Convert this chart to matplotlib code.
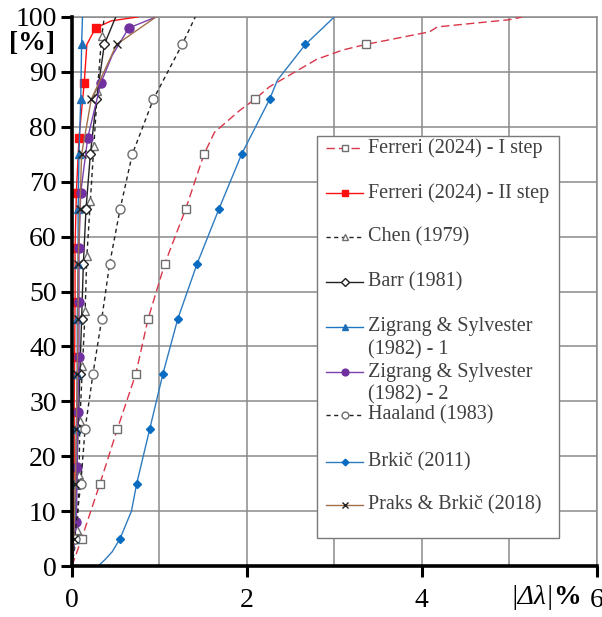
import numpy as np
import matplotlib
matplotlib.use("Agg")
import matplotlib.pyplot as plt
from matplotlib.lines import Line2D
from matplotlib.patches import Rectangle

plt.rcParams["font.family"] = ["Liberation Serif", "DejaVu Serif"]

# Cumulative share of cases [%] against absolute relative error |Δλ| [%]
LEVELS_A = [5, 15, 25, 35, 45, 55, 65, 75, 85, 95]
LEVELS_B = [8, 18, 28, 38, 48, 58, 68, 78, 88, 98]
LEVELS_C = [6.5, 16.5, 26.5, 36.5, 46.5, 56.5, 66.5, 76.5, 86.5, 96.5]

ferreri1_pct = [0, 5, 15, 25, 35, 45, 55, 65, 75, 79, 83, 85, 87.3, 92.3, 94, 95, 97.3, 98.2, 99.5, 100]
ferreri1_err = [0.0, 0.11, 0.32, 0.52, 0.73, 0.87, 1.06, 1.30, 1.51, 1.63, 1.92, 2.09, 2.26, 2.80, 3.10, 3.36, 4.09, 4.18, 5.00, 5.15]

ferreri2_pct = [0, 8, 18, 28, 38, 48, 58, 68, 78, 88, 95, 98, 99.3, 100]
ferreri2_err = [0.0, 0.02, 0.025, 0.025, 0.03, 0.035, 0.035, 0.05, 0.08, 0.14, 0.17, 0.27, 0.45, 0.75]

chen_pct = [0, 6.5, 16.5, 26.5, 36.5, 46.5, 56.5, 66.5, 76.5, 86.5, 96.5, 100]
chen_err = [0.0, 0.06, 0.08, 0.09, 0.12, 0.15, 0.17, 0.21, 0.25, 0.29, 0.34, 0.37]

barr_pct = [0, 5, 15, 25, 35, 45, 55, 65, 75, 85, 95, 100]
barr_err = [0.0, 0.02, 0.05, 0.07, 0.09, 0.11, 0.13, 0.16, 0.21, 0.28, 0.37, 0.50]

zs1_pct = [0, 5, 15, 25, 35, 45, 55, 65, 75, 85, 95, 100]
zs1_err = [0.0, 0.03, 0.04, 0.05, 0.06, 0.06, 0.07, 0.07, 0.08, 0.10, 0.11, 0.12]

zs2_pct = [0, 8, 18, 28, 38, 48, 58, 68, 78, 88, 93, 98, 100]
zs2_err = [0.0, 0.05, 0.06, 0.065, 0.08, 0.08, 0.08, 0.10, 0.18, 0.33, 0.46, 0.65, 0.96]

haaland_pct = [0, 5, 15, 25, 35, 45, 55, 65, 75, 85, 95, 100]
haaland_err = [0.0, 0.03, 0.10, 0.15, 0.24, 0.34, 0.43, 0.55, 0.69, 0.93, 1.26, 1.41]

brkic_pct = [0, 1.2, 2.6, 5, 10, 15, 25, 35, 45, 55, 65, 75, 85, 88.5, 95, 100]
brkic_err = [0.30, 0.38, 0.46, 0.55, 0.68, 0.74, 0.89, 1.04, 1.21, 1.43, 1.68, 1.94, 2.26, 2.35, 2.67, 3.00]

praks_pct = [0, 5, 15, 25, 35, 45, 55, 65, 75, 85, 95, 100]
praks_err = [0.0, 0.02, 0.04, 0.05, 0.06, 0.07, 0.07, 0.09, 0.11, 0.22, 0.51, 0.96]

x_ticks = [0, 2, 4, 6]
y_ticks = list(range(0, 101, 10))

series = [
    dict(label=["Ferreri (2024) - I step"], pct=ferreri1_pct, err=ferreri1_err, lv=LEVELS_A,
         color="#d9364a", ls=(0, (6, 3)), marker="s", ms=5.5, mfc="white", mec="#6e6e6e"),
    dict(label=["Ferreri (2024) - II step"], pct=ferreri2_pct, err=ferreri2_err, lv=LEVELS_B,
         color="#ff1010", ls="-", marker="s", ms=6, mfc="#ff1010", mec="#ff1010"),
    dict(label=["Chen (1979)"], pct=chen_pct, err=chen_err, lv=LEVELS_C,
         color="#222222", ls=(0, (3, 2.5)), marker="^", ms=6, mfc="white", mec="#6e6e6e"),
    dict(label=["Barr (1981)"], pct=barr_pct, err=barr_err, lv=LEVELS_A,
         color="#222222", ls="-", marker="D", ms=5, mfc="white", mec="#222222"),
    dict(label=["Zigrang & Sylvester", "(1982) - 1"], pct=zs1_pct, err=zs1_err, lv=LEVELS_A,
         color="#1f77c4", ls="-", marker="^", ms=6, mfc="#1f6fb8", mec="#1f6fb8"),
    dict(label=["Zigrang & Sylvester", "(1982) - 2"], pct=zs2_pct, err=zs2_err, lv=LEVELS_B,
         color="#7b3fae", ls="-", marker="o", ms=6.5, mfc="#7030a0", mec="#7030a0"),
    dict(label=["Haaland (1983)"], pct=haaland_pct, err=haaland_err, lv=LEVELS_A,
         color="#222222", ls=(0, (3, 2.5)), marker="o", ms=6.5, mfc="white", mec="#6e6e6e"),
    dict(label=["Brkič (2011)"], pct=brkic_pct, err=brkic_err, lv=LEVELS_A,
         color="#2e7bc0", ls="-", marker="D", ms=4.5, mfc="#0a6cc0", mec="#0a6cc0"),
    dict(label=["Praks & Brkič (2018)"], pct=praks_pct, err=praks_err, lv=LEVELS_A,
         color="#a0704a", ls="-", marker="x", ms=6, mfc="#222222", mec="#222222"),
]

fig = plt.figure(figsize=(6.02, 6.17), dpi=100)
ax = fig.add_axes([72 / 602, 51 / 617, 524.5 / 602, 549 / 617])

for s in series:
    pct = np.asarray(s["pct"], dtype=float)
    err = np.asarray(s["err"], dtype=float)
    marks = [i for i, p in enumerate(pct) if np.isclose(p, s["lv"]).any()]
    ax.plot(err, pct, color=s["color"], ls=s["ls"], lw=1.0, marker=s["marker"],
            ms=s["ms"], mfc=s["mfc"], mec=s["mec"], mew=1.0, markevery=marks,
            zorder=3, clip_on=True)

ax.set_xlim(0, 6)
ax.set_ylim(0, 100)
ax.set_xticks(x_ticks)
ax.set_xticklabels(["0", "2", "4", "6"])
ax.set_xticks([1, 3, 5], minor=True)
ax.set_yticks(y_ticks)
ax.grid(True, which="both", color="#8a8a8a", lw=1.1, zorder=0)
ax.set_axisbelow(True)

ax.tick_params(axis="both", which="major", direction="out", length=8, width=2.2,
               labelsize=20, colors="black", pad=3)
ax.tick_params(axis="x", which="minor", length=0)
ax.tick_params(axis="x", pad=8)
for side in ("left", "bottom"):
    ax.spines[side].set_linewidth(2.6)
    ax.spines[side].set_color("black")
    ax.spines[side].set_zorder(5)
for side in ("top", "right"):
    ax.spines[side].set_linewidth(1.1)
    ax.spines[side].set_color("#8a8a8a")

# Axis captions
fig.text(32 / 602, 1 - 44 / 617, "[%]", fontsize=20, fontweight="bold",
         ha="center", va="center")
fig.text(554 / 602, 1 - 598 / 617, "|Δλ|", fontsize=20, fontstyle="italic",
         ha="right", va="center")
fig.text(553 / 602, 1 - 598 / 617, "%", fontsize=20, fontweight="bold",
         ha="left", va="center")

# Legend box drawn by hand so multi-line labels keep their symbol on the first line
def ax_x(px):
    return (px - 72) / 524.5


def ax_y(py):
    return (566 - py) / 549


ax.add_patch(Rectangle((ax_x(317), ax_y(538)), ax_x(559) - ax_x(317), ax_y(136) - ax_y(538),
                       transform=ax.transAxes, facecolor="white", edgecolor="#7a7a7a",
                       lw=1.0, zorder=6))
row_y = [148, 193, 237, 282, 327, 372, 415, 462, 505]
for s, py in zip(series, row_y):
    y = ax_y(py)
    ax.add_line(Line2D([ax_x(326), ax_x(363)], [y, y], transform=ax.transAxes,
                       color=s["color"], ls=s["ls"], lw=1.0, zorder=7))
    ax.add_line(Line2D([ax_x(344.5)], [y], transform=ax.transAxes, marker=s["marker"],
                       ms=s["ms"] * 0.75, mfc=s["mfc"], mec=s["mec"], mew=1.0,
                       ls="none", zorder=8))
    for k, line in enumerate(s["label"]):
        ax.text(ax_x(368), ax_y(py + 23 * k), line, transform=ax.transAxes,
                fontsize=14.5, ha="left", va="center", color="#404040", zorder=8)

fig.savefig("out.png", dpi=100)
